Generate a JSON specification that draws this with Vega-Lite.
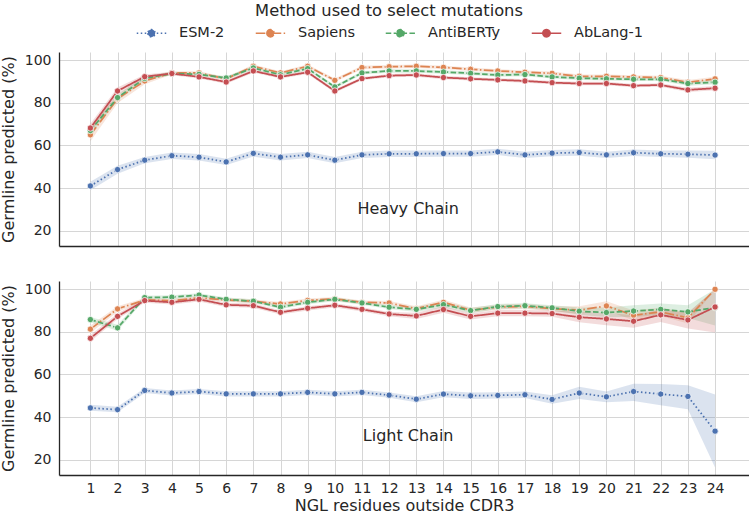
{
"$schema": "https://vega.github.io/schema/vega-lite/v6.json",
"padding": {"left": 0, "top": 3, "right": 0, "bottom": 0},
"config": {
  "font": "DejaVu Sans",
  "view": {"stroke": null},
  "concat": {"spacing": 35},
  "axis": {"labelFont": "DejaVu Sans", "titleFont": "DejaVu Sans", "labelFontSize": 14, "titleFontSize": 16, "labelColor": "#262626", "titleColor": "#262626", "titleFontWeight": "normal", "gridColor": "#d6d6d6", "gridWidth": 1, "domainColor": "#262626", "domainWidth": 1.3, "ticks": false, "labelPadding": 8, "titlePadding": 8},
  "legend": {"labelFont": "DejaVu Sans", "titleFont": "DejaVu Sans", "labelColor": "#262626", "titleColor": "#262626"}
},
"data": {"values": [
{"chain":"Heavy","method":"ESM-2","n":1,"v":41.0,"lo":39,"hi":43},
{"chain":"Heavy","method":"ESM-2","n":2,"v":48.7,"lo":46.7,"hi":50.5},
{"chain":"Heavy","method":"ESM-2","n":3,"v":53.1,"lo":51.6,"hi":54.6},
{"chain":"Heavy","method":"ESM-2","n":4,"v":55.2,"lo":53.7,"hi":56.7},
{"chain":"Heavy","method":"ESM-2","n":5,"v":54.5,"lo":53,"hi":56},
{"chain":"Heavy","method":"ESM-2","n":6,"v":52.3,"lo":50.8,"hi":53.8},
{"chain":"Heavy","method":"ESM-2","n":7,"v":56.3,"lo":54.8,"hi":57.8},
{"chain":"Heavy","method":"ESM-2","n":8,"v":54.5,"lo":53,"hi":56},
{"chain":"Heavy","method":"ESM-2","n":9,"v":55.6,"lo":54.1,"hi":57.1},
{"chain":"Heavy","method":"ESM-2","n":10,"v":53.1,"lo":51.6,"hi":54.6},
{"chain":"Heavy","method":"ESM-2","n":11,"v":55.6,"lo":54.1,"hi":57.1},
{"chain":"Heavy","method":"ESM-2","n":12,"v":56.1,"lo":54.6,"hi":57.6},
{"chain":"Heavy","method":"ESM-2","n":13,"v":56.1,"lo":54.6,"hi":57.6},
{"chain":"Heavy","method":"ESM-2","n":14,"v":56.2,"lo":54.7,"hi":57.7},
{"chain":"Heavy","method":"ESM-2","n":15,"v":56.2,"lo":54.7,"hi":57.7},
{"chain":"Heavy","method":"ESM-2","n":16,"v":57.0,"lo":55.5,"hi":58.5},
{"chain":"Heavy","method":"ESM-2","n":17,"v":55.6,"lo":54.1,"hi":57.1},
{"chain":"Heavy","method":"ESM-2","n":18,"v":56.4,"lo":54.9,"hi":57.9},
{"chain":"Heavy","method":"ESM-2","n":19,"v":56.7,"lo":55.2,"hi":58.2},
{"chain":"Heavy","method":"ESM-2","n":20,"v":55.6,"lo":54.1,"hi":57.1},
{"chain":"Heavy","method":"ESM-2","n":21,"v":56.6,"lo":55.1,"hi":58.1},
{"chain":"Heavy","method":"ESM-2","n":22,"v":56.1,"lo":54.6,"hi":57.6},
{"chain":"Heavy","method":"ESM-2","n":23,"v":55.9,"lo":54.2,"hi":57.6},
{"chain":"Heavy","method":"ESM-2","n":24,"v":55.5,"lo":53.5,"hi":57.5},
{"chain":"Heavy","method":"Sapiens","n":1,"v":65.0,"lo":62,"hi":68},
{"chain":"Heavy","method":"Sapiens","n":2,"v":82.0,"lo":80,"hi":84},
{"chain":"Heavy","method":"Sapiens","n":3,"v":90.3,"lo":88.8,"hi":91.8},
{"chain":"Heavy","method":"Sapiens","n":4,"v":94.1,"lo":93.3,"hi":94.9},
{"chain":"Heavy","method":"Sapiens","n":5,"v":94.1,"lo":93.3,"hi":94.9},
{"chain":"Heavy","method":"Sapiens","n":6,"v":91.3,"lo":90.5,"hi":92.1},
{"chain":"Heavy","method":"Sapiens","n":7,"v":97.2,"lo":96.4,"hi":98},
{"chain":"Heavy","method":"Sapiens","n":8,"v":94.1,"lo":93.3,"hi":94.9},
{"chain":"Heavy","method":"Sapiens","n":9,"v":97.2,"lo":96.4,"hi":98},
{"chain":"Heavy","method":"Sapiens","n":10,"v":90.6,"lo":89.8,"hi":91.4},
{"chain":"Heavy","method":"Sapiens","n":11,"v":96.6,"lo":95.8,"hi":97.4},
{"chain":"Heavy","method":"Sapiens","n":12,"v":97.0,"lo":96.2,"hi":97.8},
{"chain":"Heavy","method":"Sapiens","n":13,"v":97.2,"lo":96.4,"hi":98},
{"chain":"Heavy","method":"Sapiens","n":14,"v":96.7,"lo":95.9,"hi":97.5},
{"chain":"Heavy","method":"Sapiens","n":15,"v":95.8,"lo":95,"hi":96.6},
{"chain":"Heavy","method":"Sapiens","n":16,"v":95.0,"lo":94.2,"hi":95.8},
{"chain":"Heavy","method":"Sapiens","n":17,"v":94.4,"lo":93.6,"hi":95.2},
{"chain":"Heavy","method":"Sapiens","n":18,"v":93.9,"lo":93.1,"hi":94.7},
{"chain":"Heavy","method":"Sapiens","n":19,"v":92.5,"lo":91.7,"hi":93.3},
{"chain":"Heavy","method":"Sapiens","n":20,"v":92.5,"lo":91.7,"hi":93.3},
{"chain":"Heavy","method":"Sapiens","n":21,"v":92.2,"lo":91.4,"hi":93},
{"chain":"Heavy","method":"Sapiens","n":22,"v":91.9,"lo":91.1,"hi":92.7},
{"chain":"Heavy","method":"Sapiens","n":23,"v":89.7,"lo":88.7,"hi":90.7},
{"chain":"Heavy","method":"Sapiens","n":24,"v":91.3,"lo":90.3,"hi":92.3},
{"chain":"Heavy","method":"AntiBERTy","n":1,"v":67.0,"lo":65,"hi":69},
{"chain":"Heavy","method":"AntiBERTy","n":2,"v":82.5,"lo":81,"hi":84},
{"chain":"Heavy","method":"AntiBERTy","n":3,"v":91.5,"lo":90.5,"hi":92.5},
{"chain":"Heavy","method":"AntiBERTy","n":4,"v":93.8,"lo":93,"hi":94.6},
{"chain":"Heavy","method":"AntiBERTy","n":5,"v":93.4,"lo":92.6,"hi":94.2},
{"chain":"Heavy","method":"AntiBERTy","n":6,"v":91.7,"lo":90.9,"hi":92.5},
{"chain":"Heavy","method":"AntiBERTy","n":7,"v":96.4,"lo":95.6,"hi":97.2},
{"chain":"Heavy","method":"AntiBERTy","n":8,"v":93.2,"lo":92.4,"hi":94},
{"chain":"Heavy","method":"AntiBERTy","n":9,"v":96.1,"lo":95.3,"hi":96.9},
{"chain":"Heavy","method":"AntiBERTy","n":10,"v":87.5,"lo":86.7,"hi":88.3},
{"chain":"Heavy","method":"AntiBERTy","n":11,"v":94.1,"lo":93.3,"hi":94.9},
{"chain":"Heavy","method":"AntiBERTy","n":12,"v":95.0,"lo":94.2,"hi":95.8},
{"chain":"Heavy","method":"AntiBERTy","n":13,"v":95.0,"lo":94.2,"hi":95.8},
{"chain":"Heavy","method":"AntiBERTy","n":14,"v":94.5,"lo":93.7,"hi":95.3},
{"chain":"Heavy","method":"AntiBERTy","n":15,"v":93.9,"lo":93.1,"hi":94.7},
{"chain":"Heavy","method":"AntiBERTy","n":16,"v":93.1,"lo":92.3,"hi":93.9},
{"chain":"Heavy","method":"AntiBERTy","n":17,"v":93.3,"lo":92.5,"hi":94.1},
{"chain":"Heavy","method":"AntiBERTy","n":18,"v":92.2,"lo":91.4,"hi":93},
{"chain":"Heavy","method":"AntiBERTy","n":19,"v":91.6,"lo":90.8,"hi":92.4},
{"chain":"Heavy","method":"AntiBERTy","n":20,"v":91.3,"lo":90.5,"hi":92.1},
{"chain":"Heavy","method":"AntiBERTy","n":21,"v":91.1,"lo":90.3,"hi":91.9},
{"chain":"Heavy","method":"AntiBERTy","n":22,"v":91.1,"lo":90.3,"hi":91.9},
{"chain":"Heavy","method":"AntiBERTy","n":23,"v":89.1,"lo":88.1,"hi":90.1},
{"chain":"Heavy","method":"AntiBERTy","n":24,"v":89.7,"lo":88.7,"hi":90.7},
{"chain":"Heavy","method":"AbLang-1","n":1,"v":68.2,"lo":66.2,"hi":70.2},
{"chain":"Heavy","method":"AbLang-1","n":2,"v":85.6,"lo":84,"hi":87.2},
{"chain":"Heavy","method":"AbLang-1","n":3,"v":92.3,"lo":91.3,"hi":93.3},
{"chain":"Heavy","method":"AbLang-1","n":4,"v":93.8,"lo":93,"hi":94.6},
{"chain":"Heavy","method":"AbLang-1","n":5,"v":92.2,"lo":91.4,"hi":93},
{"chain":"Heavy","method":"AbLang-1","n":6,"v":89.8,"lo":89,"hi":90.6},
{"chain":"Heavy","method":"AbLang-1","n":7,"v":95.0,"lo":94.2,"hi":95.8},
{"chain":"Heavy","method":"AbLang-1","n":8,"v":92.2,"lo":91.4,"hi":93},
{"chain":"Heavy","method":"AbLang-1","n":9,"v":94.4,"lo":93.6,"hi":95.2},
{"chain":"Heavy","method":"AbLang-1","n":10,"v":85.6,"lo":84.8,"hi":86.4},
{"chain":"Heavy","method":"AbLang-1","n":11,"v":91.4,"lo":90.6,"hi":92.2},
{"chain":"Heavy","method":"AbLang-1","n":12,"v":92.8,"lo":92,"hi":93.6},
{"chain":"Heavy","method":"AbLang-1","n":13,"v":93.1,"lo":92.3,"hi":93.9},
{"chain":"Heavy","method":"AbLang-1","n":14,"v":91.9,"lo":91.1,"hi":92.7},
{"chain":"Heavy","method":"AbLang-1","n":15,"v":91.3,"lo":90.5,"hi":92.1},
{"chain":"Heavy","method":"AbLang-1","n":16,"v":90.8,"lo":90,"hi":91.6},
{"chain":"Heavy","method":"AbLang-1","n":17,"v":90.3,"lo":89.5,"hi":91.1},
{"chain":"Heavy","method":"AbLang-1","n":18,"v":89.5,"lo":88.7,"hi":90.3},
{"chain":"Heavy","method":"AbLang-1","n":19,"v":89.1,"lo":88.3,"hi":89.9},
{"chain":"Heavy","method":"AbLang-1","n":20,"v":89.1,"lo":88.3,"hi":89.9},
{"chain":"Heavy","method":"AbLang-1","n":21,"v":88.1,"lo":87.3,"hi":88.9},
{"chain":"Heavy","method":"AbLang-1","n":22,"v":88.4,"lo":87.6,"hi":89.2},
{"chain":"Heavy","method":"AbLang-1","n":23,"v":86.1,"lo":85.1,"hi":87.1},
{"chain":"Heavy","method":"AbLang-1","n":24,"v":86.9,"lo":85.9,"hi":87.9},
{"chain":"Light","method":"ESM-2","n":1,"v":44.3,"lo":43,"hi":45.8},
{"chain":"Light","method":"ESM-2","n":2,"v":43.5,"lo":42.3,"hi":44.8},
{"chain":"Light","method":"ESM-2","n":3,"v":52.5,"lo":51.3,"hi":53.7},
{"chain":"Light","method":"ESM-2","n":4,"v":51.3,"lo":50.1,"hi":52.5},
{"chain":"Light","method":"ESM-2","n":5,"v":52.0,"lo":50.8,"hi":53.2},
{"chain":"Light","method":"ESM-2","n":6,"v":50.9,"lo":49.7,"hi":52.1},
{"chain":"Light","method":"ESM-2","n":7,"v":50.9,"lo":49.7,"hi":52.1},
{"chain":"Light","method":"ESM-2","n":8,"v":50.9,"lo":49.7,"hi":52.1},
{"chain":"Light","method":"ESM-2","n":9,"v":51.6,"lo":50.4,"hi":52.8},
{"chain":"Light","method":"ESM-2","n":10,"v":50.9,"lo":49.7,"hi":52.1},
{"chain":"Light","method":"ESM-2","n":11,"v":51.6,"lo":50.4,"hi":52.8},
{"chain":"Light","method":"ESM-2","n":12,"v":50.3,"lo":49.1,"hi":51.5},
{"chain":"Light","method":"ESM-2","n":13,"v":48.4,"lo":47,"hi":49.8},
{"chain":"Light","method":"ESM-2","n":14,"v":50.8,"lo":49.3,"hi":52.3},
{"chain":"Light","method":"ESM-2","n":15,"v":50.0,"lo":48.5,"hi":51.5},
{"chain":"Light","method":"ESM-2","n":16,"v":50.2,"lo":48.7,"hi":51.7},
{"chain":"Light","method":"ESM-2","n":17,"v":50.5,"lo":49,"hi":52},
{"chain":"Light","method":"ESM-2","n":18,"v":48.3,"lo":46.3,"hi":50.3},
{"chain":"Light","method":"ESM-2","n":19,"v":51.3,"lo":48.5,"hi":54.3},
{"chain":"Light","method":"ESM-2","n":20,"v":49.5,"lo":47,"hi":52},
{"chain":"Light","method":"ESM-2","n":21,"v":52.0,"lo":47.5,"hi":55.6},
{"chain":"Light","method":"ESM-2","n":22,"v":50.8,"lo":45.5,"hi":55.5},
{"chain":"Light","method":"ESM-2","n":23,"v":49.7,"lo":43.7,"hi":55},
{"chain":"Light","method":"ESM-2","n":24,"v":33.4,"lo":16.3,"hi":50.6},
{"chain":"Light","method":"Sapiens","n":1,"v":81.3,"lo":79.5,"hi":83},
{"chain":"Light","method":"Sapiens","n":2,"v":90.8,"lo":89.5,"hi":92},
{"chain":"Light","method":"Sapiens","n":3,"v":95.0,"lo":94.1,"hi":95.9},
{"chain":"Light","method":"Sapiens","n":4,"v":94.7,"lo":93.8,"hi":95.6},
{"chain":"Light","method":"Sapiens","n":5,"v":96.0,"lo":95.1,"hi":96.9},
{"chain":"Light","method":"Sapiens","n":6,"v":95.0,"lo":94.1,"hi":95.9},
{"chain":"Light","method":"Sapiens","n":7,"v":94.4,"lo":93.5,"hi":95.3},
{"chain":"Light","method":"Sapiens","n":8,"v":93.1,"lo":92.2,"hi":94},
{"chain":"Light","method":"Sapiens","n":9,"v":94.8,"lo":93.9,"hi":95.7},
{"chain":"Light","method":"Sapiens","n":10,"v":95.5,"lo":94.6,"hi":96.4},
{"chain":"Light","method":"Sapiens","n":11,"v":93.9,"lo":93,"hi":94.8},
{"chain":"Light","method":"Sapiens","n":12,"v":93.6,"lo":92.7,"hi":94.5},
{"chain":"Light","method":"Sapiens","n":13,"v":90.9,"lo":89.7,"hi":92.1},
{"chain":"Light","method":"Sapiens","n":14,"v":93.9,"lo":92.7,"hi":95.1},
{"chain":"Light","method":"Sapiens","n":15,"v":90.2,"lo":89,"hi":91.4},
{"chain":"Light","method":"Sapiens","n":16,"v":91.6,"lo":90.4,"hi":92.8},
{"chain":"Light","method":"Sapiens","n":17,"v":92.0,"lo":90.8,"hi":93.2},
{"chain":"Light","method":"Sapiens","n":18,"v":90.9,"lo":89.7,"hi":92.1},
{"chain":"Light","method":"Sapiens","n":19,"v":90.2,"lo":88.5,"hi":92},
{"chain":"Light","method":"Sapiens","n":20,"v":92.2,"lo":90,"hi":94.4},
{"chain":"Light","method":"Sapiens","n":21,"v":87.8,"lo":85.5,"hi":90},
{"chain":"Light","method":"Sapiens","n":22,"v":89.4,"lo":87.5,"hi":91.5},
{"chain":"Light","method":"Sapiens","n":23,"v":86.6,"lo":84,"hi":89},
{"chain":"Light","method":"Sapiens","n":24,"v":100,"lo":100,"hi":100},
{"chain":"Light","method":"AntiBERTy","n":1,"v":85.8,"lo":84.5,"hi":87},
{"chain":"Light","method":"AntiBERTy","n":2,"v":81.9,"lo":80.5,"hi":83.3},
{"chain":"Light","method":"AntiBERTy","n":3,"v":96.1,"lo":95.2,"hi":97},
{"chain":"Light","method":"AntiBERTy","n":4,"v":96.3,"lo":95.4,"hi":97.2},
{"chain":"Light","method":"AntiBERTy","n":5,"v":97.3,"lo":96.4,"hi":98.2},
{"chain":"Light","method":"AntiBERTy","n":6,"v":95.3,"lo":94.4,"hi":96.2},
{"chain":"Light","method":"AntiBERTy","n":7,"v":94.4,"lo":93.5,"hi":95.3},
{"chain":"Light","method":"AntiBERTy","n":8,"v":91.6,"lo":90.7,"hi":92.5},
{"chain":"Light","method":"AntiBERTy","n":9,"v":93.9,"lo":93,"hi":94.8},
{"chain":"Light","method":"AntiBERTy","n":10,"v":95.3,"lo":94.4,"hi":96.2},
{"chain":"Light","method":"AntiBERTy","n":11,"v":93.6,"lo":92.7,"hi":94.5},
{"chain":"Light","method":"AntiBERTy","n":12,"v":91.6,"lo":90.7,"hi":92.5},
{"chain":"Light","method":"AntiBERTy","n":13,"v":90.6,"lo":89.4,"hi":91.8},
{"chain":"Light","method":"AntiBERTy","n":14,"v":92.8,"lo":91.6,"hi":94},
{"chain":"Light","method":"AntiBERTy","n":15,"v":90.0,"lo":88.8,"hi":91.2},
{"chain":"Light","method":"AntiBERTy","n":16,"v":91.9,"lo":90.7,"hi":93.1},
{"chain":"Light","method":"AntiBERTy","n":17,"v":92.3,"lo":91.1,"hi":93.5},
{"chain":"Light","method":"AntiBERTy","n":18,"v":91.3,"lo":90.1,"hi":92.5},
{"chain":"Light","method":"AntiBERTy","n":19,"v":89.7,"lo":88,"hi":91.5},
{"chain":"Light","method":"AntiBERTy","n":20,"v":89.1,"lo":87,"hi":91.5},
{"chain":"Light","method":"AntiBERTy","n":21,"v":89.8,"lo":87,"hi":92.5},
{"chain":"Light","method":"AntiBERTy","n":22,"v":90.6,"lo":88,"hi":93.3},
{"chain":"Light","method":"AntiBERTy","n":23,"v":89.4,"lo":86.5,"hi":92.5},
{"chain":"Light","method":"AntiBERTy","n":24,"v":91.4,"lo":83,"hi":100},
{"chain":"Light","method":"AbLang-1","n":1,"v":77.0,"lo":75.5,"hi":78.5},
{"chain":"Light","method":"AbLang-1","n":2,"v":87.3,"lo":86,"hi":88.6},
{"chain":"Light","method":"AbLang-1","n":3,"v":94.7,"lo":93.7,"hi":95.7},
{"chain":"Light","method":"AbLang-1","n":4,"v":93.9,"lo":92.9,"hi":94.9},
{"chain":"Light","method":"AbLang-1","n":5,"v":95.3,"lo":94.3,"hi":96.3},
{"chain":"Light","method":"AbLang-1","n":6,"v":92.7,"lo":91.7,"hi":93.7},
{"chain":"Light","method":"AbLang-1","n":7,"v":92.3,"lo":91.3,"hi":93.3},
{"chain":"Light","method":"AbLang-1","n":8,"v":89.2,"lo":88.2,"hi":90.2},
{"chain":"Light","method":"AbLang-1","n":9,"v":91.1,"lo":90.1,"hi":92.1},
{"chain":"Light","method":"AbLang-1","n":10,"v":92.5,"lo":91.5,"hi":93.5},
{"chain":"Light","method":"AbLang-1","n":11,"v":90.6,"lo":89.6,"hi":91.6},
{"chain":"Light","method":"AbLang-1","n":12,"v":88.4,"lo":87.4,"hi":89.4},
{"chain":"Light","method":"AbLang-1","n":13,"v":87.5,"lo":86,"hi":89},
{"chain":"Light","method":"AbLang-1","n":14,"v":90.5,"lo":89,"hi":92},
{"chain":"Light","method":"AbLang-1","n":15,"v":87.3,"lo":85.8,"hi":88.8},
{"chain":"Light","method":"AbLang-1","n":16,"v":88.8,"lo":87.3,"hi":90.3},
{"chain":"Light","method":"AbLang-1","n":17,"v":88.8,"lo":87.3,"hi":90.3},
{"chain":"Light","method":"AbLang-1","n":18,"v":88.6,"lo":87.1,"hi":90.1},
{"chain":"Light","method":"AbLang-1","n":19,"v":86.9,"lo":84.5,"hi":89.5},
{"chain":"Light","method":"AbLang-1","n":20,"v":86.1,"lo":83.1,"hi":89},
{"chain":"Light","method":"AbLang-1","n":21,"v":85.0,"lo":81.9,"hi":87.8},
{"chain":"Light","method":"AbLang-1","n":22,"v":88.0,"lo":84.7,"hi":90.5},
{"chain":"Light","method":"AbLang-1","n":23,"v":85.6,"lo":81.6,"hi":89},
{"chain":"Light","method":"AbLang-1","n":24,"v":91.7,"lo":79.7,"hi":100}
]},
"resolve": {"scale": {"color": "shared", "strokeDash": "shared"}},
"vconcat": [
{
  "width": 690, "height": 194,
  "transform": [{"filter": "datum.chain === 'Heavy'"}],
  "encoding": {
    "x": {"field": "n", "type": "quantitative", "scale": {"domain": [-0.156, 25.25], "nice": false, "zero": false},
          "axis": {"values": [1,2,3,4,5,6,7,8,9,10,11,12,13,14,15,16,17,18,19,20,21,22,23,24], "labels": false, "title": null, "grid": true}}
  },
  "layer": [
    {"mark": {"type": "area", "opacity": 0.2},
     "encoding": {
       "y": {"field": "lo", "type": "quantitative", "scale": {"domain": [12.8, 103.9], "nice": false, "zero": false},
             "axis": {"values": [20,40,60,80,100], "title": "Germline predicted (%)", "grid": true}},
       "y2": {"field": "hi"},
       "color": {"field": "method", "type": "nominal",
                 "scale": {"domain": ["ESM-2","Sapiens","AntiBERTy","AbLang-1"], "range": ["#4c72b0","#dd8452","#55a868","#c44e52"]}}
     }},
    {"mark": {"type": "line", "strokeWidth": 1.75},
     "encoding": {
       "y": {"field": "v", "type": "quantitative"},
       "color": {"field": "method", "type": "nominal",
                 "scale": {"domain": ["ESM-2","Sapiens","AntiBERTy","AbLang-1"], "range": ["#4c72b0","#dd8452","#55a868","#c44e52"]},
                 "legend": {"orient": "none", "legendX": 77, "legendY": -49, "direction": "horizontal",
                            "title": "Method used to select mutations", "titleAnchor": "middle", "titleFontSize": 16.3, "titleFontWeight": "normal",
                            "titleLimit": 1000, "labelLimit": 500,
                            "titlePadding": -2, "labelFontSize": 14.5, "labelOffset": 12, "columnPadding": 27,
                            "symbolType": "M-1,0H1M-0.25,0A0.25,0.25 0 1,0 0.25,0A0.25,0.25 0 1,0 -0.25,0",
                            "symbolSize": 870, "symbolStrokeWidth": 1.5, "symbolOpacity": 1,
                            "encode": {"symbols": {"update": {"fill": {"scale": "color", "field": "value"}, "opacity": {"value": 1}}}}}},
       "strokeDash": {"field": "method", "type": "nominal",
                      "scale": {"domain": ["ESM-2","Sapiens","AntiBERTy","AbLang-1"], "range": [[1.5,2.5],[9.6,2.4,1.5,2.4],[5.5,2.4],[1,0]]}}
     }},
    {"mark": {"type": "point", "filled": true, "size": 40, "stroke": "white", "strokeWidth": 0.75, "opacity": 1},
     "encoding": {
       "y": {"field": "v", "type": "quantitative"},
       "color": {"field": "method", "type": "nominal"}
     }},
    {"transform": [{"filter": "datum.n === 1 && datum.method === 'ESM-2'"}],
     "mark": {"type": "text", "text": "Heavy Chain", "fontSize": 16, "font": "DejaVu Sans", "color": "#262626"},
     "encoding": {"x": {"datum": 12.7}, "y": {"datum": 30}}}
  ]
},
{
  "width": 690, "height": 194,
  "transform": [{"filter": "datum.chain === 'Light'"}],
  "encoding": {
    "x": {"field": "n", "type": "quantitative", "scale": {"domain": [-0.156, 25.25], "nice": false, "zero": false},
          "axis": {"values": [1,2,3,4,5,6,7,8,9,10,11,12,13,14,15,16,17,18,19,20,21,22,23,24], "title": "NGL residues outside CDR3", "grid": true, "labelPadding": 6, "titlePadding": 2}}
  },
  "layer": [
    {"mark": {"type": "area", "opacity": 0.2},
     "encoding": {
       "y": {"field": "lo", "type": "quantitative", "scale": {"domain": [12.8, 103.9], "nice": false, "zero": false},
             "axis": {"values": [20,40,60,80,100], "title": "Germline predicted (%)", "grid": true}},
       "y2": {"field": "hi"},
       "color": {"field": "method", "type": "nominal"}
     }},
    {"mark": {"type": "line", "strokeWidth": 1.75},
     "encoding": {
       "y": {"field": "v", "type": "quantitative"},
       "color": {"field": "method", "type": "nominal"},
       "strokeDash": {"field": "method", "type": "nominal"}
     }},
    {"mark": {"type": "point", "filled": true, "size": 40, "stroke": "white", "strokeWidth": 0.75, "opacity": 1},
     "encoding": {
       "y": {"field": "v", "type": "quantitative"},
       "color": {"field": "method", "type": "nominal"}
     }},
    {"transform": [{"filter": "datum.n === 1 && datum.method === 'ESM-2'"}],
     "mark": {"type": "text", "text": "Light Chain", "fontSize": 16, "font": "DejaVu Sans", "color": "#262626"},
     "encoding": {"x": {"datum": 12.7}, "y": {"datum": 31}}}
  ]
}
]
}
